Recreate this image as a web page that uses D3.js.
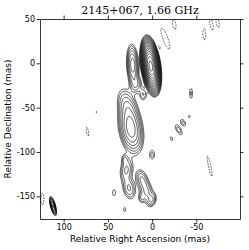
<!DOCTYPE html>
<meta charset="utf-8">
<style>
body { margin: 0; background: #fff; }
.axis text { font: 8px "DejaVu Sans", sans-serif; fill: #000; }
.axis path, .axis line { fill: none; stroke: #000; stroke-width: 0.8; }
.title { font: 11px "DejaVu Serif", serif; text-anchor: middle; }
.label { font: 9px "DejaVu Sans", sans-serif; text-anchor: middle; }
.pos { fill: none; stroke: #000; stroke-width: 0.7; }
.neg { fill: none; stroke: #000; stroke-width: 0.7; stroke-dasharray: 1.6,1.2; }
</style>
<svg class="chart" width="249" height="250"></svg>
<script src="https://d3js.org/d3.v7.min.js"></script>
<script>

var raTicks = [100, 50, 0, -50];
var decTicks = [50, 0, -50, -100, -150];

// contour levels, in units of the lowest contour (negatives drawn dashed)
var levels = [1, 1.41, 2, 2.83, 4, 5.66, 8, 11.3, 16, 22.6, 32, 45.3, 64, 90.5, 128, 181, 256];
var negLevels = [1];

// emission components (RA, Dec in mas; peak in lowest-contour units;
// sigma along / across position angle in mas; PA in degrees east of north)
var compRA   = [1.5, 22, 18, 24, 28, 10, 0, 29, 26, 31, 12, 6, 0, 12, 43, 31, 63, -44, -35, -30, -42, -22, 112,
                -15, -8, -25, -59, -67, -74, -65, 73, 124];
var compDec  = [-3, -2, -24, -74, -48, -35, -103, -120, -141, -108, -130, -145, -154, -152, -146, -165, -55, -34, -67, -75, -60, -85, -161,
                28, 18, 44, 33, 44, 46, -116, -77, -153];
var compPeak = [300, 7, 2.5, 10, 3.5, 2, 1.6, 3, 3, 1.6, 2.6, 3, 2, 1.6, 1.4, 1.3, 1.1, 1.5, 1.6, 1.7, 1.2, 1.3, 12,
                -1.6, -1.3, -1.5, -1.5, -1.5, -1.5, -1.5, -1.4, -1.5];
var compMaj  = [10.5, 12, 6, 14, 12, 5, 5, 8, 8, 4, 7, 9, 5, 4, 4, 3, 1.5, 6, 4, 6, 2, 3, 5,
                13, 3, 6, 7, 7, 6, 13, 6, 7];
var compMin  = [3.4, 3.5, 4, 6.5, 6, 3, 2.8, 4.5, 4.5, 2.5, 4, 4.5, 3, 2.5, 2, 1.5, 1, 1.8, 2.5, 2.5, 1.5, 1.5, 1.3,
                2.9, 1.5, 2, 1.8, 1.8, 1.8, 1.5, 1.3, 2];
var compPA   = [8, 3, 0, 10, 15, 0, 0, -10, 10, 0, 15, 15, -20, 0, 0, 0, 0, 0, 30, 30, 0, 20, 15,
                20, 20, 10, 0, 10, 10, 12, 10, 0];

var margin = {left: 40, top: 19, right: 9, bottom: 31},
    width = 249 - margin.left - margin.right,
    height = 250 - margin.top - margin.bottom;

var x = d3.scaleLinear().domain([126.7, -99.3]).range([0, width]);
var y = d3.scaleLinear().domain([50, -175.6]).range([0, height]);

var svg = d3.select(".chart");
var chart = svg.append("g")
    .attr("transform", "translate(" + margin.left + "," + margin.top + ")");

chart.append("clipPath").attr("id", "clip")
  .append("rect").attr("width", width).attr("height", height);

// brightness grid
var step = 0.5, raMax = 130, decMax = 52;
var nx = Math.round((130 + 102) / step), ny = Math.round((52 + 180) / step);
var field = new Float64Array(nx * ny);
for (var k = 0; k < compRA.length; k++) {
  var pa = compPA[k] * Math.PI / 180, s = Math.sin(pa), c = Math.cos(pa);
  for (var j = 0; j < ny; j++) {
    var dy = decMax - j * step - compDec[k];
    for (var i = 0; i < nx; i++) {
      var dx = raMax - i * step - compRA[k];
      var a = dx * s + dy * c, b = dx * c - dy * s;
      var q = a * a / (2 * compMaj[k] * compMaj[k]) + b * b / (2 * compMin[k] * compMin[k]);
      if (q < 30) field[j * nx + i] += compPeak[k] * Math.exp(-q);
    }
  }
}
var negField = field.map(function(v) { return -v; });

var path = d3.geoPath(d3.geoTransform({
  point: function(px, py) {
    this.stream.point(x(raMax - (px - 0.5) * step), y(decMax - (py - 0.5) * step));
  }
}));

var contours = d3.contours().size([nx, ny]);
var plot = chart.append("g").attr("clip-path", "url(#clip)");

plot.selectAll("path.pos")
    .data(contours.thresholds(levels)(field))
  .enter().append("path")
    .attr("class", "pos")
    .attr("d", path);

plot.selectAll("path.neg")
    .data(contours.thresholds(negLevels)(negField))
  .enter().append("path")
    .attr("class", "neg")
    .attr("d", path);

// axes on all four sides, ticks outward
var fmt = function(d) { return String(d); };
chart.append("g").attr("class", "axis")
    .attr("transform", "translate(0," + height + ")")
    .call(d3.axisBottom(x).tickValues(raTicks).tickFormat(fmt).tickSize(3.5).tickSizeOuter(0).tickPadding(2));
chart.append("g").attr("class", "axis")
    .call(d3.axisTop(x).tickValues(raTicks).tickFormat("").tickSize(3.5).tickSizeOuter(0));
chart.append("g").attr("class", "axis")
    .call(d3.axisLeft(y).tickValues(decTicks).tickFormat(fmt).tickSize(3.5).tickSizeOuter(0).tickPadding(1.5));
chart.append("g").attr("class", "axis")
    .attr("transform", "translate(" + width + ",0)")
    .call(d3.axisRight(y).tickValues(decTicks).tickFormat("").tickSize(3.5).tickSizeOuter(0));

svg.append("text").attr("class", "title")
    .attr("x", margin.left + width / 2).attr("y", 14)
    .text("2145+067, 1.66 GHz");

svg.append("text").attr("class", "label")
    .attr("x", margin.left + width / 2).attr("y", 242)
    .text("Relative Right Ascension (mas)");

svg.append("text").attr("class", "label")
    .attr("transform", "translate(11," + (margin.top + height / 2) + ") rotate(-90)")
    .text("Relative Declination (mas)");

</script>
